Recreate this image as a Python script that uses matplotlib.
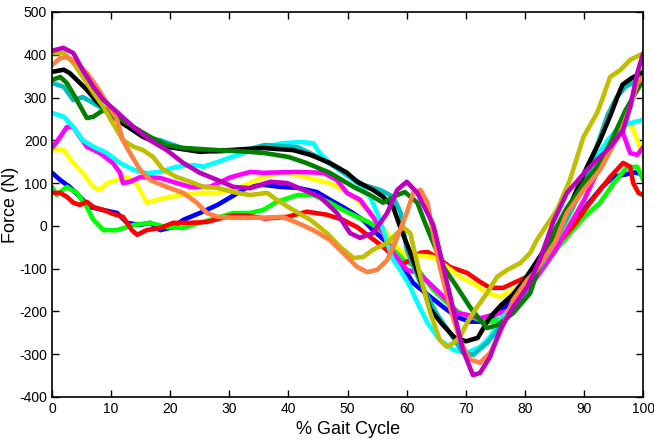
import matplotlib
matplotlib.use("Agg")
import matplotlib.pyplot as plt

plt.rcParams['font.family'] = ['Liberation Sans', 'DejaVu Sans']
plt.rcParams['axes.unicode_minus'] = False

# gait cycle traces, (x in % gait cycle, force in N)
x_blue = [0, 1.4, 3, 4.7, 6.4, 8.7, 11, 12.7, 14.9, 16.6, 18.3, 20.5, 22.2, 25, 28, 30.6, 33, 35.7, 38.6, 41.5, 44.8, 47, 49.2, 50.9, 52.6, 54.3, 56.7, 58.4, 60, 61.1, 64, 66.2, 68.5, 70.7, 72.9, 76, 80, 85, 90, 93, 95, 97, 98.5, 100]
f_blue = [124, 107, 91, 68, 44, 37, 30, 7, 2, 7, -10, -3, 14, 30, 49, 70, 90, 96, 91, 89, 79, 61, 44, 30, 14, -10, -40, -85, -110, -134, -166, -190, -213, -224, -224, -200, -140, -60, 40, 90, 115, 120, 125, 120]

x_lime = [0, 0.8, 2.5, 4.2, 5.9, 7, 8.7, 11, 13.8, 16.6, 19.4, 22.2, 25, 28, 30.6, 33.5, 35.7, 38, 41.5, 44.2, 47, 49.2, 51.6, 53.8, 55.5, 57.2, 59.4, 61.5, 64.5, 66.8, 69, 72.4, 74.1, 77, 80, 81.4, 85, 87.1, 90, 92.7, 95, 97.3, 99, 100]
f_lime = [91, 72, 91, 77, 44, 14, -10, -10, 2, 7, -3, -5, 7, 19, 30, 30, 37, 56, 72, 72, 54, 37, 21, 7, -10, -33, -80, -95, -150, -180, -204, -220, -224, -213, -170, -126, -60, -26, 20, 54, 100, 137, 138, 107]

x_red = [0, 1.4, 2.5, 3.6, 4.7, 5.9, 7, 8.7, 10.3, 12, 13.5, 14.4, 16, 18.3, 20.5, 23.4, 26.2, 28.9, 30.6, 33, 36, 39.8, 43.1, 46.5, 49.2, 51.6, 53.8, 56, 57.7, 58.9, 60.6, 62.3, 63.5, 65.1, 67.3, 70.2, 72.4, 74.1, 76.3, 78, 80.4, 85, 88.2, 91, 94.4, 96.6, 97.8, 98.3, 99.2, 100]
f_red = [77, 77, 68, 54, 49, 56, 44, 37, 28, 21, -10, -21, -10, -5, 7, 7, 9, 19, 24, 24, 17, 21, 33, 26, 14, -3, -26, -49, -70, -92, -80, -63, -61, -73, -96, -110, -131, -145, -145, -134, -119, -50, 0, 54, 114, 147, 138, 100, 77, 72]

x_yellow = [0, 2, 3.6, 5.2, 7, 8.1, 9.3, 11, 12.7, 13.8, 14.9, 16, 17.8, 20, 22.2, 25, 28, 30.6, 33.5, 35.7, 38.6, 41.5, 44.8, 47, 49.2, 51.6, 53.8, 56, 58.4, 60, 62.3, 64.5, 66.8, 69, 71.2, 73.6, 75.8, 78, 80.4, 85, 90, 93, 95, 97, 98, 99, 100]
f_yellow = [177, 177, 147, 124, 91, 84, 100, 107, 114, 107, 84, 54, 61, 68, 72, 77, 77, 84, 100, 114, 124, 119, 107, 100, 84, 61, 30, -5, -50, -70, -70, -73, -96, -119, -134, -157, -166, -150, -134, -50, 60, 160, 195, 235, 235, 200, 165]

x_magenta = [0, 1.4, 2.5, 3.6, 4.7, 5.9, 8.1, 10.3, 11.5, 12, 13.2, 14.9, 18.3, 21.1, 23.4, 26.7, 30.1, 33.5, 35.7, 41.5, 45.9, 48.2, 49.9, 52.1, 54.3, 56, 57.7, 60, 62, 64.5, 66.8, 68.5, 70.2, 72.4, 74.6, 77.5, 79.7, 85, 90, 93, 95.5, 96.5, 97.8, 99, 100]
f_magenta = [182, 208, 231, 231, 208, 185, 170, 147, 124, 100, 103, 114, 112, 100, 91, 91, 113, 126, 124, 126, 124, 107, 77, 61, 21, -17, -63, -103, -110, -143, -173, -204, -208, -216, -208, -197, -166, -60, 60, 150, 215, 220, 170, 166, 184]

x_cyan = [0, 2, 3.6, 5.2, 7, 9.3, 11.5, 13.8, 16, 18.3, 21, 24, 25.6, 29, 32.3, 35.7, 39, 42, 44.2, 45.3, 47, 49.2, 51.6, 53.8, 55, 56.3, 57.5, 59, 60.6, 61.8, 63.5, 65.6, 67.9, 70.2, 72.4, 74.1, 75.8, 78, 80, 85, 90, 92, 94, 96, 97.8, 100]
f_cyan = [264, 255, 231, 200, 185, 170, 147, 131, 123, 126, 138, 142, 138, 154, 170, 184, 193, 196, 193, 170, 147, 124, 100, 68, 30, -20, -75, -105, -143, -180, -227, -267, -290, -297, -283, -260, -220, -185, -150, -20, 107, 160, 200, 232, 240, 248]

x_teal = [0, 2, 3.6, 5.2, 7, 11, 15.4, 18.3, 22, 28, 33.5, 36, 41.5, 45, 48.7, 52.6, 55.5, 57.7, 59, 60, 62.3, 65, 67.3, 69.5, 71.2, 73.6, 75.8, 79.2, 82, 85, 88, 90, 92, 94, 95.5, 97, 99, 100]
f_teal = [334, 325, 294, 301, 287, 255, 208, 200, 182, 173, 180, 189, 184, 161, 131, 96, 84, 68, 30, -56, -134, -204, -250, -297, -302, -274, -236, -173, -110, -40, 40, 95, 180, 260, 300, 325, 340, 348]

x_black = [0, 2, 3, 4.2, 5.9, 7.6, 11, 15.4, 19.4, 25, 30, 35.7, 40.8, 43.7, 47, 49.9, 51.6, 54.3, 56, 57.7, 58.9, 60.6, 62.3, 64, 66, 68, 70, 72, 74, 76, 78, 80, 85, 88, 90.5, 92.7, 94.5, 95.6, 96.5, 98, 100]
f_black = [360, 365, 357, 341, 318, 290, 248, 208, 185, 173, 177, 182, 177, 166, 147, 124, 103, 84, 68, 44, -3, -63, -126, -195, -230, -260, -270, -262, -215, -185, -160, -125, -20, 60, 138, 200, 260, 300, 330, 345, 360]

x_dkgreen = [0, 1.4, 2.5, 4.2, 5.9, 7, 8.7, 11, 13.8, 16.6, 19.4, 22.2, 28, 33.5, 36, 40, 43, 47, 51, 53.8, 56, 58.4, 59.7, 61.8, 63, 64.5, 66.2, 68.5, 70.7, 72.4, 73.6, 75.3, 78, 80.9, 82, 84.8, 87, 90, 92.7, 95, 97, 99, 100]
f_dkgreen = [341, 348, 334, 294, 252, 255, 271, 255, 231, 208, 189, 182, 177, 173, 170, 161, 147, 124, 91, 72, 54, 72, 79, 54, 10, -40, -96, -143, -190, -220, -239, -232, -204, -157, -110, -17, 40, 100, 147, 210, 270, 318, 340]

x_olive = [0, 2, 3.6, 5.2, 7, 8.7, 10.3, 12, 13.8, 15.4, 17.1, 18.8, 21.1, 23.4, 25.6, 28, 30.6, 33.5, 36.4, 38, 40.8, 43.7, 46.5, 48.7, 51, 52.6, 54.3, 56.7, 58.4, 59.4, 60.6, 62.3, 64, 65.6, 66.8, 67.9, 69, 70.2, 71.9, 73.6, 75.3, 77, 79.2, 80.9, 82, 85.4, 87.6, 89.9, 92.2, 93.2, 94.4, 96.1, 97.8, 99.5, 100]
f_olive = [404, 404, 381, 348, 311, 278, 240, 200, 185, 177, 161, 131, 114, 103, 91, 89, 79, 72, 77, 61, 37, 14, -17, -49, -75, -73, -56, -40, -17, -3, -17, -119, -204, -267, -283, -274, -260, -227, -190, -157, -119, -103, -87, -63, -33, 37, 107, 208, 264, 301, 348, 364, 388, 400, 400]

x_orange = [0, 1.4, 2.5, 4.2, 5.9, 7.6, 9.3, 11, 12, 13.2, 14.9, 16.6, 19.4, 22.2, 24.5, 26.2, 28, 30.6, 33.5, 35.7, 39, 41.5, 44.2, 47, 49.2, 51.6, 53.3, 55, 56.7, 58.4, 60, 61.1, 62.3, 63.5, 64.5, 65.6, 67.3, 69, 70.7, 72.4, 74.1, 75.8, 78, 80.4, 82, 85, 87.1, 89.9, 92.7, 95, 96.1, 97.8, 99, 100]
f_orange = [376, 392, 395, 381, 357, 325, 287, 248, 200, 170, 131, 107, 91, 77, 54, 30, 21, 19, 19, 19, 21, 7, -10, -33, -63, -96, -108, -103, -80, -26, 30, 77, 84, 55, -20, -96, -190, -267, -313, -320, -297, -250, -173, -126, -103, -40, 30, 84, 131, 190, 217, 278, 334, 348]

x_purple = [0, 1.9, 3.6, 5.2, 7, 8.7, 11, 13.8, 16.6, 19.4, 22.2, 25, 28, 30.7, 33.5, 36.9, 39.8, 42.5, 45.3, 48.2, 50.4, 52.1, 54.3, 56.7, 58.4, 60, 61.8, 64.5, 66.2, 67.9, 69.5, 71.2, 72.4, 74.1, 75.8, 78, 80.4, 82.5, 84.8, 87.1, 90.5, 94.4, 96.6, 97.8, 99, 100]
f_purple = [409, 416, 404, 364, 325, 294, 266, 231, 200, 177, 147, 124, 107, 91, 88, 103, 100, 84, 68, 30, -17, -28, -17, 30, 84, 103, 77, 2, -96, -197, -290, -349, -344, -306, -243, -190, -143, -80, 10, 77, 131, 184, 224, 278, 357, 404]

traces = [
    (x_blue, f_blue, '#0000ff'),
    (x_lime, f_lime, '#00ff00'),
    (x_red, f_red, '#ff0000'),
    (x_yellow, f_yellow, '#ffff00'),
    (x_magenta, f_magenta, '#ff00ff'),
    (x_cyan, f_cyan, '#00ffff'),
    (x_teal, f_teal, '#00bfbf'),
    (x_black, f_black, '#000000'),
    (x_dkgreen, f_dkgreen, '#008000'),
    (x_olive, f_olive, '#bfbf00'),
    (x_orange, f_orange, '#ff8040'),
    (x_purple, f_purple, '#bf00bf'),
]

fig = plt.figure(figsize=(6.54, 4.43), dpi=100)
ax = fig.add_axes([0.0795, 0.104, 0.904, 0.869])

for xs, fs, c in traces:
    ax.plot(xs, fs, color=c, linewidth=3.3, solid_joinstyle='round', solid_capstyle='round')

ax.set_xlim(0, 100)
ax.set_ylim(-400, 500)
ax.set_xticks(range(0, 101, 10))
ax.set_yticks(range(-400, 501, 100))
ax.tick_params(direction='in', top=True, right=True, labelsize=10, length=5, width=1)
for s in ax.spines.values():
    s.set_linewidth(1.2)

ax.set_xlabel('% Gait Cycle', fontsize=13)
ax.set_ylabel('Force (N)', fontsize=13)
ax.xaxis.set_label_coords(0.5, -0.062)
ax.yaxis.set_label_coords(-0.056, 0.5)

fig.savefig('out.png', dpi=100)
